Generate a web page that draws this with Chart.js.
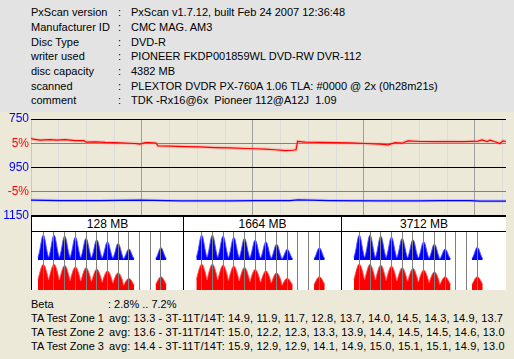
<!DOCTYPE html>
<html>
<head>
<meta charset="utf-8">
<script src="https://cdn.jsdelivr.net/npm/chart.js@4.4.0/dist/chart.umd.min.js"></script>
<style>
  body { margin: 0; width: 514px; height: 359px; background: #ece9d8; position: relative; overflow: hidden;
         font-family: "Liberation Sans", Arial, sans-serif; font-size: 11px; color: #000; }
  #info { position: absolute; left: 0; top: 0; width: 514px; height: 112px; background: #e3e3e3; }
  .t { position: absolute; height: 15px; line-height: 15px; white-space: pre; }
  .w { letter-spacing: 0.13px; }
  #plot { position: absolute; left: 0; top: 105px; }
  #ta { position: absolute; left: 31px; top: 216px; width: 475px; height: 74px; background: #fff; }
  .ln { position: absolute; background: #000; }
  .hd { position: absolute; top: 1px; height: 14px; line-height: 14px; text-align: center; font-size: 12px; }
  .tac { position: absolute; top: 16px; }
</style>
</head>
<body>
<div id="info">
  <div class="t" style="left:31px;top:5px">PxScan version</div><div class="t" style="left:118px;top:5px">:</div><div class="t" style="left:131px;top:5px">PxScan v1.7.12, built Feb 24 2007 12:36:48</div>
  <div class="t" style="left:31px;top:20px">Manufacturer ID</div><div class="t" style="left:118px;top:20px">:</div><div class="t" style="left:131px;top:20px">CMC MAG. AM3</div>
  <div class="t" style="left:31px;top:35px">Disc Type</div><div class="t" style="left:118px;top:35px">:</div><div class="t" style="left:131px;top:35px">DVD-R</div>
  <div class="t" style="left:31px;top:49px">writer used</div><div class="t" style="left:118px;top:49px">:</div><div class="t" style="left:131px;top:49px">PIONEER FKDP001859WL DVD-RW DVR-112</div>
  <div class="t" style="left:31px;top:64px">disc capacity</div><div class="t" style="left:118px;top:64px">:</div><div class="t" style="left:131px;top:64px">4382 MB</div>
  <div class="t" style="left:31px;top:79px">scanned</div><div class="t" style="left:118px;top:79px">:</div><div class="t" style="left:131px;top:79px">PLEXTOR DVDR PX-760A 1.06 TLA: #0000 @ 2x (0h28m21s)</div>
  <div class="t" style="left:31px;top:93px">comment</div><div class="t" style="left:118px;top:93px">:</div><div class="t" style="left:131px;top:93px">TDK -Rx16@6x  Pioneer 112@A12J  1.09</div>
</div>

<canvas id="plot" width="514" height="120"></canvas>

<div id="ta">
  <div class="ln" style="left:0;top:0;width:475px;height:1px"></div>
  <div class="ln" style="left:0;top:15px;width:475px;height:1px"></div>
  <div class="ln" style="left:0;top:0;width:1px;height:74px"></div>
  <div class="ln" style="left:152px;top:0;width:1px;height:74px"></div>
  <div class="ln" style="left:310px;top:0;width:1px;height:74px"></div>
  <div class="hd" style="left:1px;width:151px">128 MB</div>
  <div class="hd" style="left:153px;width:157px">1664 MB</div>
  <div class="hd" style="left:311px;width:164px">3712 MB</div>
  <canvas id="ta1" class="tac" style="left:1px" width="151" height="58"></canvas>
  <canvas id="ta2" class="tac" style="left:153px" width="157" height="58"></canvas>
  <canvas id="ta3" class="tac" style="left:311px" width="164" height="58"></canvas>
</div>

<div class="t" style="left:31px;top:297px">Beta</div><div class="t" style="left:108px;top:297px">: 2.8% .. 7.2%</div>
<div class="t" style="left:31px;top:311px">TA Test Zone 1</div><div class="t w" style="left:109px;top:311px">avg: 13.3 - 3T-11T/14T: 14.9, 11.9, 11.7, 12.8, 13.7, 14.0, 14.5, 14.3, 14.9, 13.7</div>
<div class="t" style="left:31px;top:325px">TA Test Zone 2</div><div class="t w" style="left:109px;top:325px">avg: 13.6 - 3T-11T/14T: 15.0, 12.2, 12.3, 13.3, 13.9, 14.4, 14.5, 14.5, 14.6, 13.0</div>
<div class="t" style="left:31px;top:339px">TA Test Zone 3</div><div class="t w" style="left:109px;top:339px">avg: 14.4 - 3T-11T/14T: 15.9, 12.9, 12.9, 14.1, 14.9, 15.0, 15.1, 15.1, 14.9, 13.0</div>

<script>
// beta (red) read along the disc, MB -> %
const betaMB = [0, 18, 83, 175, 240, 314, 406, 489, 507, 590,
  683, 775, 867, 959, 1005, 1052, 1098, 1153, 1172, 1282,
  1421, 1559, 1697, 1836, 1974, 2066, 2159, 2251, 2343, 2417,
  2445, 2459, 2528, 2666, 2804, 2943, 3081, 3220, 3293, 3358,
  3422, 3478, 3589, 3727, 3865, 4004, 4124, 4161, 4207, 4234,
  4280, 4326, 4354, 4382];
const betaPct = [6.04, 5.83, 5.63, 5.73, 5.63, 5.73, 5.52, 5.52, 5.21, 5.27,
  5.15, 5.1, 5.04, 4.94, 4.79, 5.1, 5.1, 5.04, 4.44, 4.38,
  4.31, 4.23, 4.1, 4.02, 3.9, 3.85, 3.79, 3.65, 3.48, 3.54,
  3.65, 5.35, 5.21, 5.15, 5.1, 5.06, 4.94, 4.79, 4.65, 5.1,
  5.0, 5.48, 5.35, 5.31, 5.35, 5.31, 5.42, 5.69, 5.35, 5.63,
  5.31, 4.94, 5.48, 5.35];

// blue trace on the 750..1150 scale
const blueMB = [0, 268, 637, 1006, 1375, 1836, 2066, 2389, 2463, 2758, 3220, 3589, 3773, 4050, 4142, 4382];
const blueVal = [1085, 1087, 1087, 1085, 1088, 1088, 1087, 1087, 1084, 1087, 1088, 1088, 1087, 1087, 1089, 1089];

const xGridMB = [0, 256, 512, 768, 1024, 1280, 1536, 1792, 2048, 2304, 2560, 2816, 3072, 3328, 3584, 3840, 4096, 4352];
const yGrid = [750, 800, 850, 900, 950, 1000, 1050, 1100, 1150];
const yTickText = {750: "750", 850: "5%", 950: "950", 1050: "-5%", 1150: "1150"};

// TA histograms: peak height per run length
const taRuns = [3, 4, 5, 6, 7, 8, 9, 10, 11, 14];
const taMarks = [3, 4, 5, 6, 7, 8, 9, 10, 11, 12, 13, 14];
const blueZone1 = [25, 25, 24, 23, 21.7, 20.3, 18.3, 16.7, 11, 12.3];
const redZone1 = [25.7, 25.7, 24.7, 23.3, 22.3, 21, 19.3, 17.3, 11.7, 13.3];
const blueZone2 = [25, 25, 24, 22.7, 21.7, 20, 18.3, 16, 10.7, 12.3];
const redZone2 = [26, 26, 25, 24, 22.7, 20.7, 19.3, 17.3, 11.7, 13.3];
const blueZone3 = [25, 25, 24, 23, 21.7, 20.3, 18.3, 16, 11, 12.7];
const redZone3 = [26, 25.7, 25, 24, 22.3, 21.7, 20, 18.3, 13.3, 13.3];

// peak outline as seen in the picture (offset in T, share of peak height)
const blueShape = [[-0.5, 0.11], [-0.4, 0.25], [-0.3, 0.46], [-0.2, 0.71], [-0.1, 0.92], [0, 1],
  [0.1, 0.92], [0.2, 0.71], [0.3, 0.46], [0.4, 0.25], [0.5, 0.11]];
const redShape = [[-0.5, 0.4], [-0.4, 0.56], [-0.3, 0.72], [-0.2, 0.86], [-0.1, 0.96], [0, 1],
  [0.1, 0.96], [0.2, 0.86], [0.3, 0.72], [0.4, 0.56], [0.5, 0.4]];

Chart.defaults.font.family = "Liberation Sans";
Chart.defaults.font.size = 11;

new Chart(document.getElementById("plot"), {
  type: "line",
  data: {
    datasets: [
      { data: betaMB.map((x, i) => ({x: x, y: 950 - betaPct[i] * 20})), borderColor: "#ff0000", borderWidth: 1.2, pointRadius: 0, order: 1 },
      { data: betaMB.map((x, i) => ({x: x, y: 950 - betaPct[i] * 20})), borderColor: "rgba(255,120,120,0.35)", borderWidth: 3.5, pointRadius: 0, order: 3 },
      { data: blueMB.map((x, i) => ({x: x, y: blueVal[i]})), borderColor: "#0000ff", borderWidth: 1.2, pointRadius: 0, order: 2 },
      { data: blueMB.map((x, i) => ({x: x, y: blueVal[i]})), borderColor: "rgba(120,120,255,0.35)", borderWidth: 3, pointRadius: 0, order: 4 }
    ]
  },
  options: {
    responsive: false,
    animation: false,
    events: [],
    layout: { padding: { top: 14, right: 8, bottom: 9, left: 0 } },
    plugins: { legend: { display: false }, tooltip: { enabled: false } },
    scales: {
      x: {
        type: "linear", min: 0, max: 4382,
        afterBuildTicks: s => { s.ticks = xGridMB.map(v => ({value: v})); },
        afterFit: s => { s.height = 0; },
        ticks: { display: false },
        border: { display: false },
        grid: { drawTicks: false, color: c => c.tick.value === 0 ? "#c8c8c8" : (c.tick.value % 1024 === 0 ? "#a0a0a0" : "#dcdcdc") }
      },
      y: {
        type: "linear", min: 750, max: 1150, reverse: true,
        afterBuildTicks: s => { s.ticks = yGrid.map(v => ({value: v})); },
        afterFit: s => { s.width = 31; },
        border: { display: false },
        grid: { drawTicks: false, color: c => [750, 950, 1150].includes(c.tick.value) ? "#000000" : ([850, 1050].includes(c.tick.value) ? "#808080" : "#d8d8d8") },
        ticks: {
          padding: 2,
          callback: v => yTickText[v] || "",
          color: c => (c.tick.value === 850 || c.tick.value === 1050) ? "#ff0000" : "#0000ff",
          font: { size: 12 }
        }
      }
    }
  }
});

function peakSeries(heights, shape) {
  const pts = [];
  taRuns.forEach((run, i) => {
    if (i > 0 && run - taRuns[i - 1] > 1) pts.push({x: taRuns[i - 1] + 0.8, y: null});
    shape.forEach(([dx, k], j) => {
      if (j === shape.length - 1 && taRuns[i + 1] === run + 1) return;
      pts.push({x: run + dx, y: heights[i] * k});
    });
  });
  return pts;
}

function taChart(id, xMin, xMax, blue, red) {
  new Chart(document.getElementById(id), {
    type: "line",
    data: {
      datasets: [
        { data: peakSeries(blue, blueShape), yAxisID: "yBlue", fill: "origin", backgroundColor: "#0000ff",
          borderColor: "rgba(80,80,255,0.9)", borderWidth: 1, pointRadius: 0, tension: 0.3, spanGaps: false },
        { data: peakSeries(red, redShape), yAxisID: "yRed", fill: "origin", backgroundColor: "#ff0000",
          borderColor: "rgba(255,80,80,0.9)", borderWidth: 1, pointRadius: 0, tension: 0.3, spanGaps: false }
      ]
    },
    options: {
      responsive: false,
      animation: false,
      events: [],
      layout: { padding: 0 },
      plugins: { legend: { display: false }, tooltip: { enabled: false } },
      scales: {
        x: {
          type: "linear", min: xMin, max: xMax,
          afterBuildTicks: s => { s.ticks = taMarks.map(v => ({value: v})); },
          afterFit: s => { s.height = 0; },
          ticks: { display: false },
          border: { display: false },
          grid: { drawTicks: false, color: "#808080", z: 1 }
        },
        yRed: {
          position: "left", stack: "ta", stackWeight: 30, min: 0, max: 30,
          afterFit: s => { s.width = 0; },
          ticks: { display: false }, grid: { display: false }, border: { display: false }
        },
        yBlue: {
          position: "left", stack: "ta", stackWeight: 28, min: 0, max: 28,
          afterFit: s => { s.width = 0; },
          ticks: { display: false }, grid: { display: false }, border: { display: false }
        }
      }
    }
  });
}

taChart("ta1", 1.944, 16.06, blueZone1, redZone1);
taChart("ta2", 1.346, 16.02, blueZone2, redZone2);
taChart("ta3", 1.39, 16.67, blueZone3, redZone3);
</script>
</body>
</html>
